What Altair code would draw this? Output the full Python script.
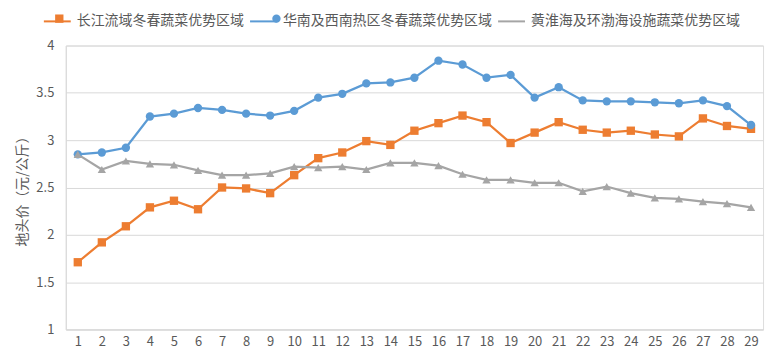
import altair as alt
import pandas as pd

weeks = list(range(1, 30))
series_names = ["长江流域冬春蔬菜优势区域", "华南及西南热区冬春蔬菜优势区域", "黄淮海及环渤海设施蔬菜优势区域"]
changjiang = [1.71, 1.92, 2.09, 2.29, 2.36, 2.27, 2.50, 2.49, 2.44, 2.63,
              2.81, 2.87, 2.99, 2.95, 3.10, 3.18, 3.26, 3.19, 2.97, 3.08,
              3.19, 3.11, 3.08, 3.10, 3.06, 3.04, 3.23, 3.15, 3.12]
huanan = [2.85, 2.87, 2.92, 3.25, 3.28, 3.34, 3.32, 3.28, 3.26, 3.31,
          3.45, 3.49, 3.60, 3.61, 3.66, 3.84, 3.80, 3.66, 3.69, 3.45,
          3.56, 3.42, 3.41, 3.41, 3.40, 3.39, 3.42, 3.36, 3.16]
huanghuai = [2.85, 2.69, 2.78, 2.75, 2.74, 2.68, 2.63, 2.63, 2.65, 2.72,
             2.71, 2.72, 2.69, 2.76, 2.76, 2.73, 2.64, 2.58, 2.58, 2.55,
             2.55, 2.46, 2.51, 2.44, 2.39, 2.38, 2.35, 2.33, 2.29]
colors = ["#ED7D31", "#5B9BD5", "#A5A5A5"]
shapes = ["square", "circle", "triangle-up"]

rows = []
for name, vals, order in zip(series_names, [changjiang, huanan, huanghuai], range(3)):
    for w, v in zip(weeks, vals):
        rows.append({"week": str(w), "value": v, "series": name,
                     "series_m": name, "order": order})
df = pd.DataFrame(rows)

FONT = "Noto Sans CJK SC"
LEG_X = -23
LEG_Y_LINE, LEG_Y_MARK = -39, -34
SYM_W = 29          # width of the legend line symbol
LBL_OFF = 5
COL_PAD = 2
MARK_SIZE = 70

x = alt.X("week:N", sort=[str(w) for w in weeks], title=None,
          scale=alt.Scale(paddingInner=1, paddingOuter=0.5),
          axis=alt.Axis(labelAngle=0, ticks=False, domainColor="#D9D9D9",
                        labelColor="#595959", labelFontSize=13, labelFont=FONT,
                        labelPadding=6, grid=False))
y = alt.Y("value:Q", title="地头价（元/公斤）",
          scale=alt.Scale(domain=[1, 4], nice=False),
          axis=alt.Axis(values=[1, 1.5, 2, 2.5, 3, 3.5, 4], ticks=False, format="~g",
                        domainColor="#D9D9D9", gridColor="#D9D9D9",
                        labelColor="#595959", labelFontSize=13, labelFont=FONT,
                        labelPadding=12, titleColor="#595959", titleFontSize=14,
                        titleFont=FONT, titleFontWeight="normal", titlePadding=6))

line_color = alt.Color(
    "series:N", sort=series_names,
    scale=alt.Scale(domain=series_names, range=colors),
    legend=alt.Legend(title=None, orient="none", direction="horizontal",
                      legendX=LEG_X, legendY=LEG_Y_LINE, labelFont=FONT,
                      labelFontSize=14, labelColor="#595959", labelLimit=0,
                      symbolType="stroke", symbolSize=(SYM_W - 2) ** 2,
                      symbolStrokeWidth=2, labelOffset=LBL_OFF, columnPadding=COL_PAD))

mw = int((MARK_SIZE ** 0.5) + 1.5 + 0.999)
mark_legend = alt.Legend(title=None, orient="none", direction="horizontal",
                         legendX=LEG_X, legendY=LEG_Y_MARK, labelFont=FONT,
                         labelFontSize=14, labelOpacity=0, labelLimit=0,
                         symbolSize=MARK_SIZE, symbolStrokeWidth=1.5,
                         symbolOffset=(SYM_W - mw) / 2,
                         labelOffset=SYM_W + LBL_OFF - mw, columnPadding=COL_PAD)
mark_color = alt.Color("series_m:N", sort=series_names,
                       scale=alt.Scale(domain=series_names, range=colors),
                       legend=mark_legend)
shape = alt.Shape("series_m:N", sort=series_names,
                  scale=alt.Scale(domain=series_names, range=shapes),
                  legend=mark_legend)

base = alt.Chart(df)
lines = base.mark_line(strokeWidth=2.25).encode(x=x, y=y, color=line_color)
points = base.mark_point(filled=True, size=MARK_SIZE, opacity=1).encode(
    x=x, y=y, color=mark_color, shape=shape, order="order:Q")

chart = alt.layer(lines, points).resolve_scale(
    color="independent", shape="independent"
).properties(
    width=700, height=285,
    autosize=alt.AutoSizeParams(type="none"),
    padding={"left": 58, "top": 37, "right": 10, "bottom": 30},
).configure_view(stroke=None).configure(background="white")

chart.save("out.html", embed_options={"renderer": "svg", "actions": False})
